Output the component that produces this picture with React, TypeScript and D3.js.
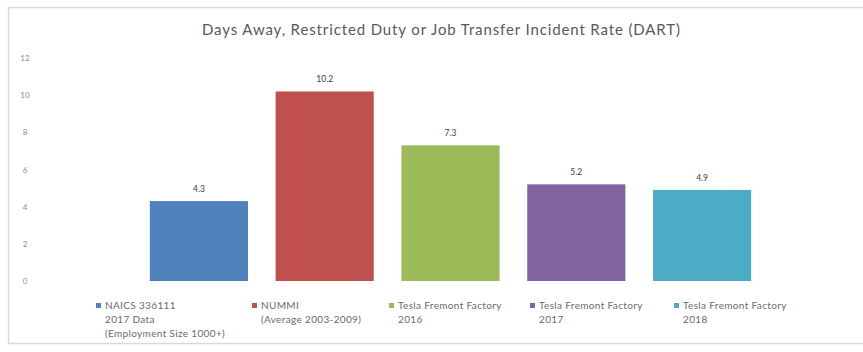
import React from "react";
import * as d3 from "d3";

const categories = ["NAICS", "NUMMI", "T2016", "T2017", "T2018"];
const values = [4.3, 10.2, 7.3, 5.2, 4.9];
const valueLabels = ["4.3", "10.2", "7.3", "5.2", "4.9"];
const legendLines = [
  ["NAICS 336111", "2017 Data", "(Employment Size 1000+)"],
  ["NUMMI", "(Average 2003-2009)"],
  ["Tesla Fremont Factory", "2016"],
  ["Tesla Fremont Factory", "2017"],
  ["Tesla Fremont Factory", "2018"],
];
const colors = ["#4f81bd", "#c0504d", "#9bbb59", "#8064a2", "#4bacc6"];
const yTicks = [0, 2, 4, 6, 8, 10, 12];
const legendX = [99, 255, 392, 533, 677];
const title = "Days Away, Restricted Duty or Job Transfer Incident Rate (DART)";

export default function App() {
  const W = 863, H = 352;
  const x = d3.scaleBand<string>().domain(categories).range([136, 765]).paddingInner(0.22).paddingOuter(0.11);
  const y = d3.scaleLinear().domain([0, 12]).range([281, 58]);
  const font = "Lato, 'Open Sans', sans-serif";
  return (
    <svg width={W} height={H} style={{ position: "absolute", left: 0, top: 0, background: "#fff" }} fontFamily={font}>
      <rect x={0} y={0} width={W} height={H} fill="#fff" />
      <path d={`M${W},7.5 H8.5 V343.5 H${W}`} fill="none" stroke="#d9d9d9" strokeWidth={1.5} />
      <text x={202} y={35} fontSize={15} fill="#595959" textLength={478} lengthAdjust="spacing">{title}</text>
      {yTicks.map((t) => (
        <text key={t} x={25} y={y(t) + 3} textAnchor="middle" fontSize={8} fill="#8c8c8c">{t}</text>
      ))}
      {categories.map((c, i) => (
        <g key={c}>
          <rect x={x(c)} y={y(values[i])} width={x.bandwidth()} height={y(0) - y(values[i])} fill={colors[i]} />
          <text x={(x(c) as number) + x.bandwidth() / 2} y={y(values[i]) - 9} textAnchor="middle" fontSize={8.5} fill="#404040">{valueLabels[i]}</text>
        </g>
      ))}
      {legendLines.map((lines, i) => (
        <g key={i} transform={`translate(${legendX[i]},0)`}>
          <rect x={-3} y={303} width={5} height={5} fill={colors[i]} />
          {lines.map((l, j) => (
            <text key={j} x={6} y={309 + j * 14} fontSize={10} letterSpacing={0.35} fill="#6a6a6a">{l}</text>
          ))}
        </g>
      ))}
    </svg>
  );
}
